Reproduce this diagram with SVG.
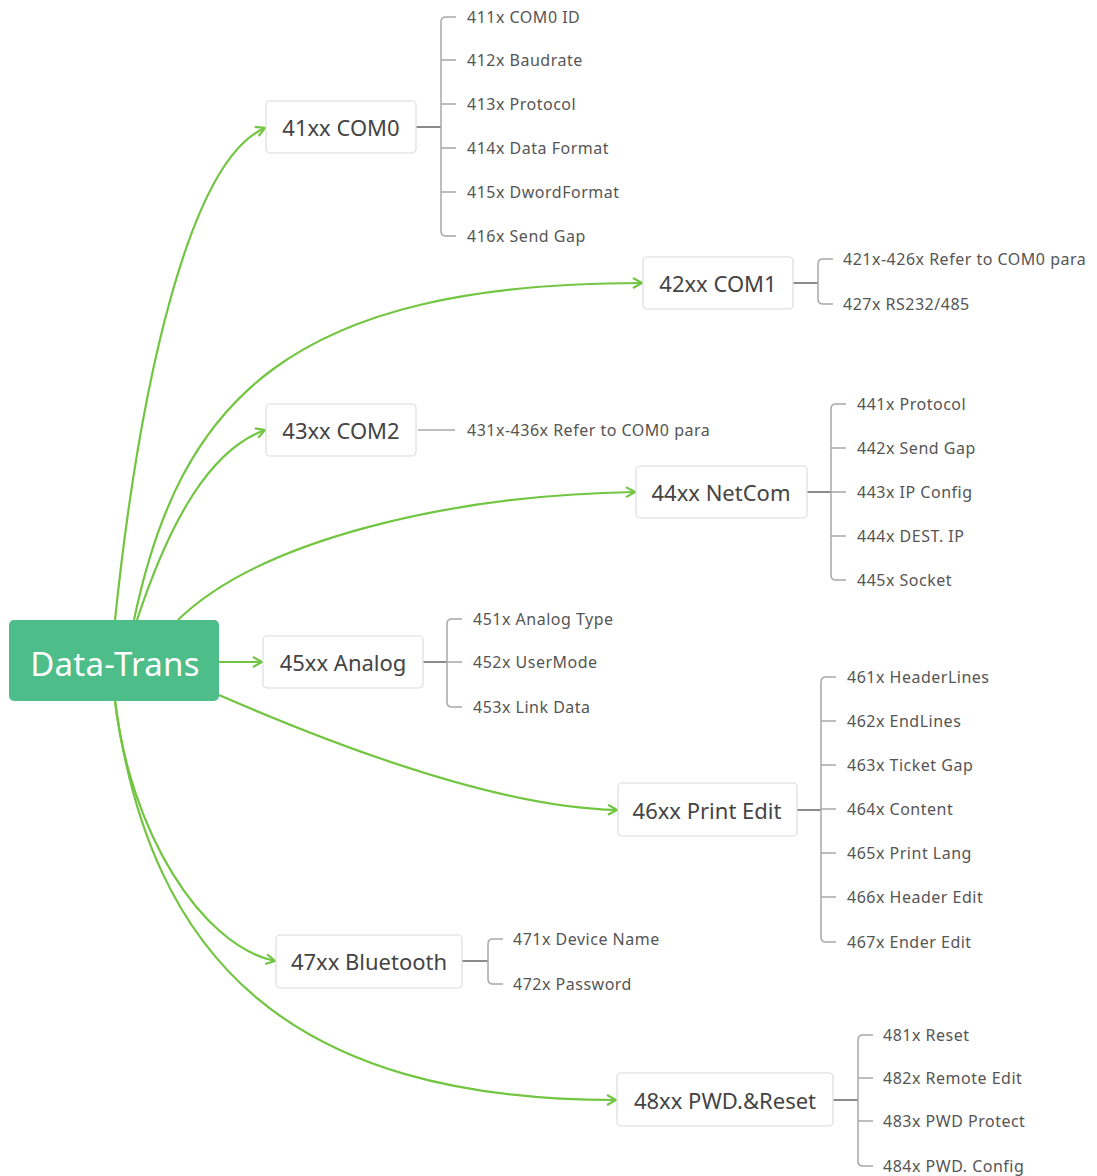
<svg xmlns="http://www.w3.org/2000/svg" width="1097" height="1176" viewBox="0 0 1097 1176">
<defs>
<style>
.node rect{fill:#fff;stroke:#dcdcdc;stroke-width:1.2}
.node text{font-family:"Noto Sans","Open Sans",sans-serif;font-size:22px;fill:#444;text-anchor:middle;dominant-baseline:central}
.root rect{fill:#4dbd8a;stroke:none}
.root text{font-family:"Noto Sans","Open Sans",sans-serif;font-size:33px;letter-spacing:0.3px;fill:#fff;text-anchor:middle;dominant-baseline:central}
.leaf{font-family:"Noto Sans","Open Sans",sans-serif;font-size:16px;letter-spacing:0.5px;fill:#555;dominant-baseline:central}
.br{fill:none;stroke:#a8a8a8;stroke-width:1.5}
.stem{fill:none;stroke:#8c8c8c;stroke-width:2}
.g{fill:none;stroke:#72c541;stroke-width:2.2;marker-end:url(#ah)}
</style>
<marker id="ah" markerUnits="userSpaceOnUse" markerWidth="14" markerHeight="14" refX="11" refY="6" orient="auto">
<path d="M2,1 L11,6 L2,11" fill="none" stroke="#72c541" stroke-width="2.2"/>
</marker>
</defs>
<rect width="1097" height="1176" fill="#fff"/>

<g id="connectors">
<path class="g" d="M115,620 C140,380 190,160 265,128"/>
<path class="g" d="M134,620 C180,400 290,283 642,283"/>
<path class="g" d="M137,620 C170,520 210,450 265,430"/>
<path class="g" d="M178,620 C260,540 450,495 635,492"/>
<path class="g" d="M219,662 L262,662"/>
<path class="g" d="M219,695 C380,765 520,808 617,810"/>
<path class="g" d="M115,701 C130,830 200,945 275,961"/>
<path class="g" d="M115,701 C150,960 290,1100 616,1100"/>

<path class="stem" d="M416,127 H441"/>
<path class="br" d="M456,17 H446 Q441,17 441,22 V231 Q441,236 446,236 H456 M441,60 H456 M441,104 H456 M441,148 H456 M441,192 H456"/>
<path class="stem" d="M793,283 H818"/>
<path class="br" d="M833,259 H823 Q818,259 818,264 V299 Q818,304 823,304 H833"/>
<path class="br" d="M418,430 H455"/>
<path class="stem" d="M807,492 H831"/>
<path class="br" d="M846,404 H836 Q831,404 831,409 V575 Q831,580 836,580 H846 M831,448 H846 M831,492 H846 M831,536 H846"/>
<path class="stem" d="M423,662 H447"/>
<path class="br" d="M462,619 H452 Q447,619 447,624 V702 Q447,707 452,707 H462 M447,662 H462"/>
<path class="stem" d="M797,810 H821"/>
<path class="br" d="M836,677 H826 Q821,677 821,682 V937 Q821,942 826,942 H836 M821,721 H836 M821,765 H836 M821,809 H836 M821,853 H836 M821,897 H836"/>
<path class="stem" d="M462,961 H488"/>
<path class="br" d="M503,939 H493 Q488,939 488,944 V979 Q488,984 493,984 H503"/>
<path class="stem" d="M833,1100 H858"/>
<path class="br" d="M873,1035 H863 Q858,1035 858,1040 V1161 Q858,1166 863,1166 H873 M858,1078 H873 M858,1121 H873"/>
</g>

<g id="root" class="root"><rect x="9" y="620" width="210" height="81" rx="5"/><text x="115" y="663">Data-Trans</text></g>

<g id="n41" class="node"><rect x="266" y="101" width="150" height="52" rx="4"/><text x="341" y="127">41xx COM0</text></g>
<g id="n42" class="node"><rect x="643" y="257" width="150" height="52" rx="4"/><text x="718" y="283">42xx COM1</text></g>
<g id="n43" class="node"><rect x="266" y="404" width="150" height="52" rx="4"/><text x="341" y="430">43xx COM2</text></g>
<g id="n44" class="node"><rect x="636" y="466" width="171" height="52" rx="4"/><text x="721" y="492">44xx NetCom</text></g>
<g id="n45" class="node"><rect x="263" y="636" width="160" height="52" rx="4"/><text x="343" y="662">45xx Analog</text></g>
<g id="n46" class="node"><rect x="618" y="783" width="179" height="53" rx="4"/><text x="707" y="810">46xx Print Edit</text></g>
<g id="n47" class="node"><rect x="276" y="935" width="186" height="53" rx="4"/><text x="369" y="961">47xx Bluetooth</text></g>
<g id="n48" class="node"><rect x="617" y="1073" width="216" height="53" rx="4"/><text x="725" y="1100">48xx PWD.&amp;Reset</text></g>

<g id="leaves41">
<text class="leaf" x="467" y="17">411x COM0 ID</text>
<text class="leaf" x="467" y="60">412x Baudrate</text>
<text class="leaf" x="467" y="104">413x Protocol</text>
<text class="leaf" x="467" y="148">414x Data Format</text>
<text class="leaf" x="467" y="192">415x DwordFormat</text>
<text class="leaf" x="467" y="236">416x Send Gap</text>
</g>
<g id="leaves42">
<text class="leaf" x="843" y="259">421x-426x Refer to COM0 para</text>
<text class="leaf" x="843" y="304">427x RS232/485</text>
</g>
<g id="leaves43">
<text class="leaf" x="467" y="430">431x-436x Refer to COM0 para</text>
</g>
<g id="leaves44">
<text class="leaf" x="857" y="404">441x Protocol</text>
<text class="leaf" x="857" y="448">442x Send Gap</text>
<text class="leaf" x="857" y="492">443x IP Config</text>
<text class="leaf" x="857" y="536">444x DEST. IP</text>
<text class="leaf" x="857" y="580">445x Socket</text>
</g>
<g id="leaves45">
<text class="leaf" x="473" y="619">451x Analog Type</text>
<text class="leaf" x="473" y="662">452x UserMode</text>
<text class="leaf" x="473" y="707">453x Link Data</text>
</g>
<g id="leaves46">
<text class="leaf" x="847" y="677">461x HeaderLines</text>
<text class="leaf" x="847" y="721">462x EndLines</text>
<text class="leaf" x="847" y="765">463x Ticket Gap</text>
<text class="leaf" x="847" y="809">464x Content</text>
<text class="leaf" x="847" y="853">465x Print Lang</text>
<text class="leaf" x="847" y="897">466x Header Edit</text>
<text class="leaf" x="847" y="942">467x Ender Edit</text>
</g>
<g id="leaves47">
<text class="leaf" x="513" y="939">471x Device Name</text>
<text class="leaf" x="513" y="984">472x Password</text>
</g>
<g id="leaves48">
<text class="leaf" x="883" y="1035">481x Reset</text>
<text class="leaf" x="883" y="1078">482x Remote Edit</text>
<text class="leaf" x="883" y="1121">483x PWD Protect</text>
<text class="leaf" x="883" y="1166">484x PWD. Config</text>
</g>
</svg>
